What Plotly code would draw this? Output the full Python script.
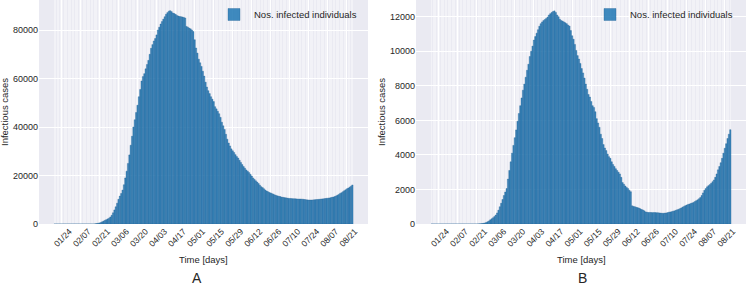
import datetime as dt
import plotly.graph_objects as go

# ---- data -------------------------------------------------------------
start = dt.date(2020, 1, 19)
n_days = 220
dates = [(start + dt.timedelta(days=i)).strftime("%m/%d") for i in range(n_days)]

tick_labels = ["01/24", "02/07", "02/21", "03/06", "03/20", "04/03", "04/17", "05/01",
               "05/15", "05/29", "06/12", "06/26", "07/10", "07/24", "08/07", "08/21"]

# Panel A: infectious cases (thousands)
cases_a_k = [0]*30 + [
    0.1, 0.2, 0.3, 0.45, 0.6, 0.9, 1.2, 1.5, 1.8, 2.1,
    2.4, 2.9, 3.6, 4.6, 5.8, 7.1, 8.6, 10.2, 11.5, 12.6,
    14.0, 16.2, 19.0, 21.8, 25.0, 28.5, 32.5, 36.2, 40.0, 43.0,
    46.0, 49.0, 52.5, 55.5, 59.0, 60.8, 62.0, 64.0, 65.8, 67.5,
    70.0, 72.5, 74.0, 75.5, 76.5, 78.0, 80.0, 81.2, 82.5, 83.5,
    84.5, 85.5, 86.5, 87.2, 87.8, 88.0, 87.6, 87.0, 86.8, 86.5,
    86.0, 85.8, 85.6, 85.5, 85.4, 85.2, 85.0, 81.5, 81.2, 80.8,
    80.5, 80.0, 79.4, 76.0, 72.6, 70.5, 68.0, 66.5, 65.0, 63.0,
    61.0, 58.5, 56.5, 55.0, 53.8, 52.5, 51.5, 50.5, 48.4, 47.5,
    46.5, 45.5, 44.0, 42.0, 40.5, 39.0, 37.0, 35.0, 33.4, 32.2,
    31.0, 30.2, 29.5, 28.6, 27.8, 27.2, 26.3, 25.4, 24.5, 23.7,
    23.0, 22.3, 21.8, 21.2, 20.5, 19.8, 19.0, 18.4, 17.8, 17.3,
    16.7, 16.0, 15.4, 15.0, 14.5, 14.0, 13.6, 13.3, 13.0, 12.8,
    12.5, 12.3, 12.0, 11.8, 11.6, 11.4, 11.3, 11.1, 11.0, 10.9,
    10.8, 10.7, 10.6, 10.55, 10.5, 10.45, 10.4, 10.4, 10.35, 10.3,
    10.3, 10.3, 10.25, 10.2, 10.1, 10.0, 9.95, 9.9, 9.9, 9.9,
    9.95, 10.0, 10.05, 10.1, 10.15, 10.2, 10.3, 10.35, 10.4, 10.5,
    10.6, 10.65, 10.75, 10.85, 11.0, 11.15, 11.3, 11.6, 11.9, 12.2,
    12.6, 12.9, 13.3, 13.7, 14.1, 14.5, 14.8, 15.2, 15.6, 16.1,
]
cases_a = [v * 1000 for v in cases_a_k]

# Panel B: infectious cases
cases_b = [0]*34 + [
    5, 10, 15, 25, 40, 60, 90, 130, 180, 240,
    300, 360, 430, 520, 640, 800, 1000, 1200, 1420, 1650,
    1850, 2050, 2600, 3100, 3600, 4100, 4550, 5000, 5450, 5950,
    6400, 6850, 7300, 7750, 8100, 8500, 8900, 9250, 9700, 10000,
    10300, 10650, 10850, 11050, 11250, 11450, 11600, 11700, 11780, 11840,
    11900, 11980, 12100, 12180, 12250, 12300, 12340, 12250, 12100, 12000,
    11850, 11780, 11750, 11700, 11650, 11600, 11520, 11460, 11200, 10900,
    10700, 10400, 10050, 9750, 9550, 9300, 9000, 8750, 8450, 8100,
    7800, 7500, 7350, 7100, 6850, 6750, 6500, 6100, 5850, 5600,
    5200, 4950, 4600, 4400, 4250, 4050, 3900, 3800, 3600, 3450,
    3330, 3200, 3100, 3000, 2900, 2700, 2400, 2300, 2200, 2120,
    2050, 1950, 1870, 1050, 1020, 1000, 970, 950, 920, 880,
    840, 810, 760, 700, 680, 670, 670, 665, 660, 660,
    660, 655, 650, 640, 630, 620, 620, 630, 640, 660,
    680, 700, 715, 740, 760, 790, 820, 850, 890, 930,
    980, 1020, 1060, 1100, 1130, 1160, 1190, 1220, 1250, 1300,
    1350, 1400, 1460, 1530, 1650, 1800, 1950, 2050, 2150, 2220,
    2280, 2360, 2450, 2550, 2700, 2900, 3135, 3330, 3550, 3800,
    4100, 4390, 4650, 4950, 5200, 5460,
]

series_name = "Nos. infected individuals"
x_title = "Time [days]"
y_title = "Infectious cases"
panel_labels = ["A", "B"]

# ---- figure -----------------------------------------------------------
W, H = 746, 286
idx = list(range(n_days))
tick_idx = [dates.index(t) for t in tick_labels]

FONT = "Liberation Sans, Arial, sans-serif"
TXT = "#262626"
BG = "#EAEAF2"
BAR = "rgba(31,119,180,0.85)"
EDGE = "#1f5f94"

fig = go.Figure()
fig.add_trace(go.Bar(x=idx, y=cases_a, name=series_name, xaxis="x", yaxis="y",
                     marker=dict(color=BAR, line=dict(color=EDGE, width=0.35)),
                     legend="legend", showlegend=True, hoverinfo="skip"))
fig.add_trace(go.Bar(x=idx, y=cases_b, name=series_name, xaxis="x2", yaxis="y2",
                     marker=dict(color=BAR, line=dict(color=EDGE, width=0.35)),
                     legend="legend2", showlegend=True, hoverinfo="skip"))

def xaxis(domain, anchor):
    return dict(domain=domain, anchor=anchor, range=[-11.5, 230.5],
                tickmode="array", tickvals=tick_idx, ticktext=tick_labels,
                tickangle=-45, ticklabelshift=8, ticks="", showline=False, zeroline=False,
                showgrid=True, gridcolor="white", gridwidth=1,
                minor=dict(tickmode="array", tickvals=idx, showgrid=True,
                           gridcolor="rgba(255,255,255,0.8)", gridwidth=0.5, ticks=""),
                tickfont=dict(size=8.5, color=TXT, family=FONT), automargin=False,
                fixedrange=True)

def yaxis(rng, dtick, anchor):
    return dict(domain=[62 / H, 1], anchor=anchor, range=rng, dtick=dtick,
                ticks="", showline=False, zeroline=False, showgrid=True,
                gridcolor="white", gridwidth=1, tickformat="d",
                tickfont=dict(size=9, color=TXT, family=FONT), automargin=False,
                fixedrange=True)

xa = [39 / W, 368 / W]
xb = [416 / W, 1.0]

fig.update_layout(
    width=W, height=H,
    margin=dict(l=0, r=0, t=0, b=0),
    paper_bgcolor="white", plot_bgcolor=BG,
    bargap=0, barmode="overlay", showlegend=True,
    font=dict(family=FONT, color=TXT),
    xaxis=xaxis(xa, "y"), yaxis=yaxis([0, 92400], 20000, "x"),
    xaxis2=xaxis(xb, "y2"), yaxis2=yaxis([0, 12970], 2000, "x2"),
    legend=dict(x=xa[1] - 6 / W, xanchor="right", y=1, yanchor="top",
                bgcolor="rgba(0,0,0,0)", font=dict(size=9.5, color=TXT, family=FONT)),
    legend2=dict(x=xb[1] - 8 / W, xanchor="right", y=1, yanchor="top",
                 bgcolor="rgba(0,0,0,0)", font=dict(size=9.5, color=TXT, family=FONT)),
    annotations=[
        dict(text=x_title, x=(xa[0] + xa[1]) / 2, y=1 - 259 / H, xref="paper", yref="paper",
             showarrow=False, font=dict(size=9.5, color=TXT), xanchor="center", yanchor="middle"),
        dict(text=x_title, x=(xb[0] + xb[1]) / 2, y=1 - 259 / H, xref="paper", yref="paper",
             showarrow=False, font=dict(size=9.5, color=TXT), xanchor="center", yanchor="middle"),
        dict(text=y_title, x=4 / W, y=1 - 112 / H, xref="paper", yref="paper", textangle=-90,
             showarrow=False, font=dict(size=9.5, color=TXT), xanchor="center", yanchor="middle"),
        dict(text=y_title, x=381 / W, y=1 - 112 / H, xref="paper", yref="paper", textangle=-90,
             showarrow=False, font=dict(size=9.5, color=TXT), xanchor="center", yanchor="middle"),
        dict(text=panel_labels[0], x=197 / W, y=1 - 278 / H, xref="paper", yref="paper",
             showarrow=False, font=dict(size=14, color=TXT), xanchor="center", yanchor="middle"),
        dict(text=panel_labels[1], x=582 / W, y=1 - 278 / H, xref="paper", yref="paper",
             showarrow=False, font=dict(size=14, color=TXT), xanchor="center", yanchor="middle"),
    ],
)

fig.write_html("out.html", config={"displayModeBar": False, "staticPlot": True},
               post_script="document.body.style.margin='0px';document.body.style.overflow='hidden';")
